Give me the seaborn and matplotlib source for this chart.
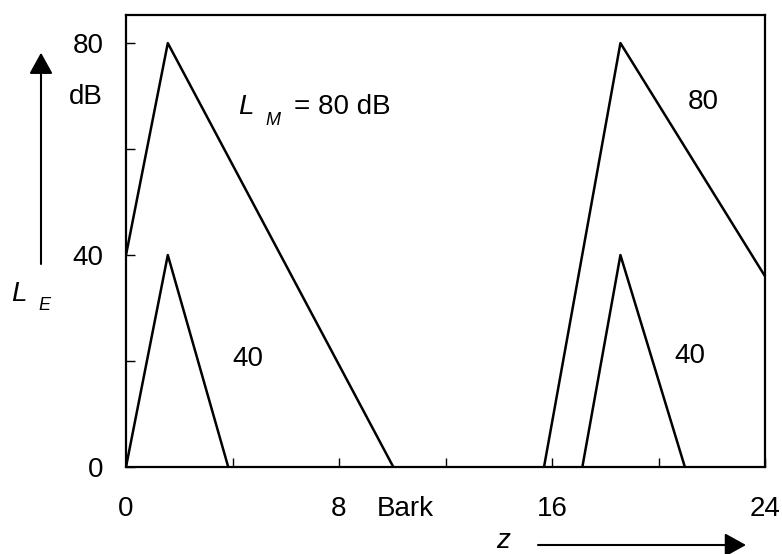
import matplotlib
matplotlib.use("Agg")
import matplotlib.pyplot as plt
from matplotlib.patches import FancyArrowPatch
import numpy as np
import pandas as pd
import seaborn as sns

# Masking patterns (excitation level vs. critical-band rate)
z_low_80 = [0.0, 1.57, 10.04]
L_low_80 = [40, 80, 0]
z_low_40 = [0.0, 1.57, 3.84]
L_low_40 = [0, 40, 0]
z_high_80 = [15.70, 18.57, 24.0]
L_high_80 = [0, 80, 36]
z_high_40 = [17.14, 18.57, 20.99]
L_high_40 = [0, 40, 0]

x_ticks = [0, 4, 8, 12, 16, 20, 24]
x_ticklabels = ["0", "", "8", "", "16", "", "24"]
y_ticks = [0, 20, 40, 60, 80]
y_ticklabels = ["0", "", "40", "", "80"]

curves = [
    ("low80", z_low_80, L_low_80),
    ("low40", z_low_40, L_low_40),
    ("high80", z_high_80, L_high_80),
    ("high40", z_high_40, L_high_40),
]
df = pd.concat(
    [pd.DataFrame({"curve": name, "z": zs, "L": ls}) for name, zs, ls in curves],
    ignore_index=True,
)

sns.set_style("ticks")
plt.rcParams["font.family"] = ["Liberation Sans", "DejaVu Sans"]
plt.rcParams["text.color"] = "black"
plt.rcParams["xtick.color"] = "black"
plt.rcParams["ytick.color"] = "black"
plt.rcParams["xtick.labelcolor"] = "black"
plt.rcParams["ytick.labelcolor"] = "black"

W, H = 782, 554
fig = plt.figure(figsize=(W / 100, H / 100), dpi=100)
ax = fig.add_axes([126 / W, 1 - 467 / H, (765 - 126) / W, (467 - 15) / H])

sns.lineplot(data=df, x="z", y="L", units="curve", estimator=None, sort=False,
             color="black", linewidth=1.8, ax=ax, legend=False)

ax.set_xlim(0, 24)
ax.set_ylim(0, 85.3)
ax.set_xticks(x_ticks)
ax.set_xticklabels(x_ticklabels)
ax.set_yticks(y_ticks)
ax.set_yticklabels(y_ticklabels)
ax.tick_params(axis="both", direction="in", length=6.5, width=1.0,
               labelsize=20, color="black", labelcolor="black")
ax.tick_params(axis="x", pad=21)
ax.tick_params(axis="y", pad=16)
ax.set_xlabel("")
ax.set_ylabel("")
for s in ax.spines.values():
    s.set_linewidth(1.6)
    s.set_color("black")

# Unit labels next to the tick labels
ax.text(10.5, -0.092, "Bark", transform=ax.get_xaxis_transform(),
        ha="center", va="center", fontsize=20)
ax.text(-0.036, 69.8, "dB", transform=ax.get_yaxis_transform(),
        ha="right", va="center", fontsize=20)

# Curve labels
ax.text(21.67, 68.9, "80", ha="center", va="center", fontsize=20)
ax.text(21.18, 21.0, "40", ha="center", va="center", fontsize=20)
ax.text(4.56, 20.4, "40", ha="center", va="center", fontsize=20)

# Masker level annotation
ax.text(4.21, 68.0, "L", ha="left", va="center", fontsize=20, style="italic")
ax.text(5.22, 65.4, "M", ha="left", va="center", fontsize=13, style="italic")
ax.text(6.30, 68.0, "= 80 dB", ha="left", va="center", fontsize=20)

# Ordinate name and arrow
fig.text(19 / W, 1 - 294 / H, "L", ha="center", va="center", fontsize=20, style="italic")
fig.text(44 / W, 1 - 306 / H, "E", ha="center", va="center", fontsize=13, style="italic")
fig.add_artist(FancyArrowPatch((41 / W, 1 - 264 / H), (41 / W, 1 - 52.7 / H),
                               transform=fig.transFigure,
                               arrowstyle="-|>,head_length=1.3,head_width=0.72",
                               mutation_scale=10, color="black", linewidth=1.5,
                               shrinkA=0, shrinkB=0))

# Abscissa name and arrow
fig.text(503 / W, 1 - 541 / H, "z", ha="center", va="center", fontsize=20, style="italic")
fig.add_artist(FancyArrowPatch((538 / W, 1 - 545 / H), (746 / W, 1 - 545 / H),
                               transform=fig.transFigure,
                               arrowstyle="-|>,head_length=1.3,head_width=0.72",
                               mutation_scale=10, color="black", linewidth=1.5,
                               shrinkA=0, shrinkB=0))

fig.savefig("out.png", dpi=100, facecolor="white")
